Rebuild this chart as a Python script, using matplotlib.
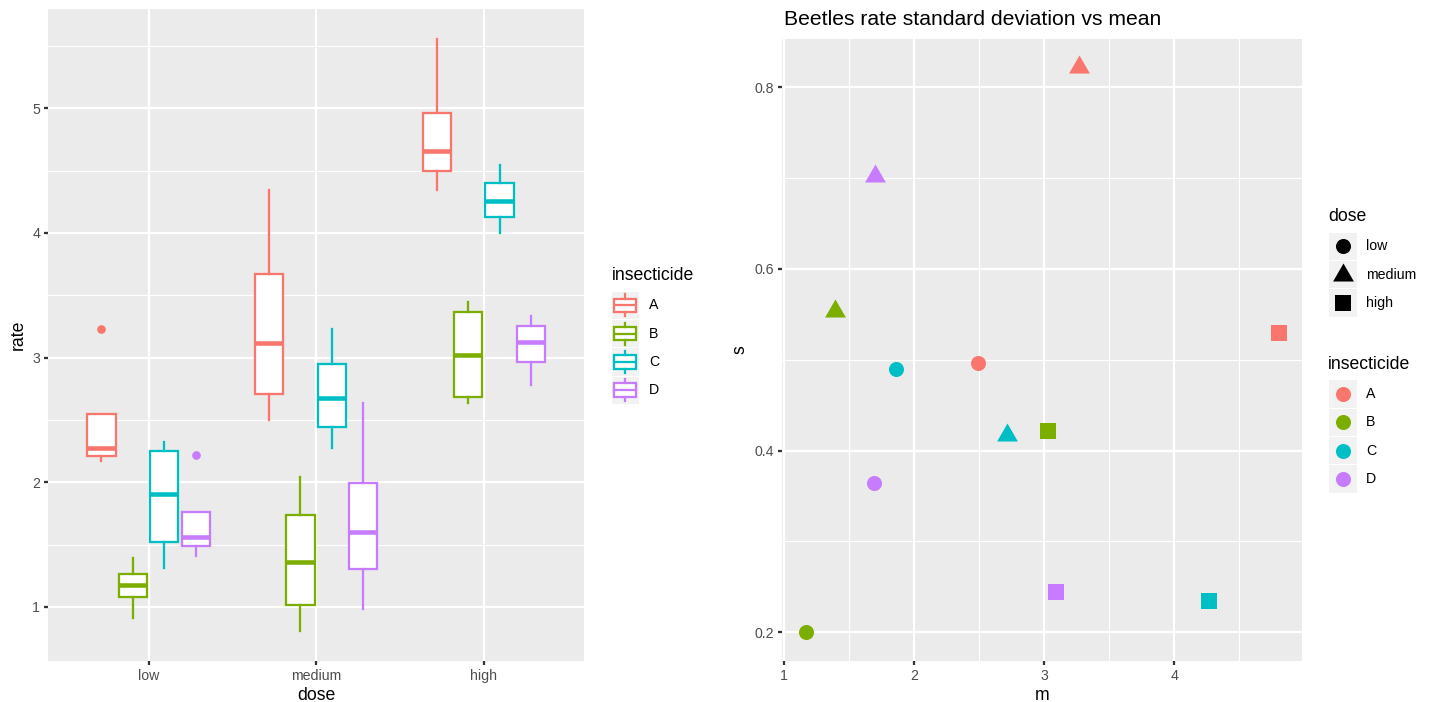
import numpy as np
import matplotlib
matplotlib.use("Agg")
import matplotlib.pyplot as plt
from matplotlib import cbook
from matplotlib.patches import Rectangle

plt.rcParams["font.family"] = ["Liberation Sans", "DejaVu Sans"]

# ---- data: beetle death rates (1 / survival time) per insecticide ----
doses = ["low", "medium", "high"]
insecticides = ["A", "B", "C", "D"]
colors = ["#F8766D", "#7CAE00", "#00BFC4", "#C77CFF"]

rate_low = [
    [3.226, 2.222, 2.174, 2.326],
    [1.220, 0.909, 1.136, 1.389],
    [2.326, 2.222, 1.587, 1.316],
    [2.222, 1.408, 1.515, 1.613],
]
rate_medium = [
    [2.778, 3.448, 2.500, 4.348],
    [1.087, 1.639, 2.041, 0.806],
    [2.273, 2.857, 3.226, 2.500],
    [1.786, 0.980, 1.408, 2.632],
]
rate_high = [
    [4.545, 4.762, 5.556, 4.348],
    [3.333, 2.703, 2.632, 3.448],
    [4.348, 4.000, 4.167, 4.545],
    [3.333, 2.778, 3.226, 3.030],
]
rates = [rate_low, rate_medium, rate_high]

dose_markers = ["o", "^", "s"]

# ---- figure geometry (pixels) ----
W, H = 1432, 702
DPI = 100
fig = plt.figure(figsize=(W / DPI, H / DPI), dpi=DPI, facecolor="white")

PT = 1.152          # ggplot point -> matplotlib point at this resolution
LW = 0.5 * 72.27 / 25.4 * PT * 1.0  # 0.5 mm line
GRID_MAJ = "white"
PANEL = "#EBEBEB"
TICK_TXT = "#4D4D4D"
TICK_COL = "#333333"
FS_TICK = 8.8 * PT
FS_AX = 11 * PT
FS_TITLE = 13.2 * PT


def px_axes(l, t, r, b):
    return fig.add_axes([l / W, 1 - b / H, (r - l) / W, (b - t) / H])


def style(ax):
    ax.set_facecolor(PANEL)
    for sp in ax.spines.values():
        sp.set_visible(False)
    ax.grid(which="major", color=GRID_MAJ, linewidth=LW)
    ax.grid(which="minor", color=GRID_MAJ, linewidth=LW / 2)
    ax.set_axisbelow(True)
    ax.tick_params(which="major", length=4.4 * 0.72, width=LW, color=TICK_COL,
                   labelcolor=TICK_TXT, labelsize=FS_TICK, pad=2.5)
    ax.tick_params(which="minor", length=0)


def padded(lo, hi, frac=0.05):
    span = hi - lo
    return lo - frac * span, hi + frac * span


# ---- left: boxplots of rate by dose and insecticide ----
ax1 = px_axes(48.0, 9.3, 584.4, 660.7)
style(ax1)
all_rates = np.concatenate([np.ravel(r) for r in rates])
ax1.set_ylim(*padded(all_rates.min(), all_rates.max()))
ax1.set_xlim(0.4, 3.6)
ax1.set_xticks([1, 2, 3])
ax1.set_xticklabels(doses)
ax1.set_yticks([1, 2, 3, 4, 5])
ax1.set_yticks([1.5, 2.5, 3.5, 4.5, 5.5], minor=True)

dodge = 0.75 / len(insecticides)
for d, dose_rates in enumerate(rates):
    for i, vals in enumerate(dose_rates):
        c = colors[i]
        pos = (d + 1) + (i - 1.5) * dodge
        st = cbook.boxplot_stats(np.array(vals), whis=1.5)
        ax1.bxp(st, positions=[pos], widths=dodge * 0.9, patch_artist=True,
                showcaps=False, manage_ticks=False,
                boxprops=dict(facecolor="white", edgecolor=c, linewidth=LW),
                whiskerprops=dict(color=c, linewidth=LW),
                medianprops=dict(color=c, linewidth=LW * 2, solid_capstyle="butt"),
                flierprops=dict(marker="o", markerfacecolor=c, markeredgecolor=c,
                                markersize=5.2, linestyle="none"))

ax1.set_xlabel("dose", fontsize=FS_AX, labelpad=3)
ax1.set_ylabel("rate", fontsize=FS_AX, labelpad=4)

# ---- right: standard deviation vs mean per group ----
m_vals, s_vals, grp_col, grp_mark = [], [], [], []
for d, dose_rates in enumerate(rates):
    for i, vals in enumerate(dose_rates):
        m_vals.append(np.mean(vals))
        s_vals.append(np.std(vals, ddof=1))
        grp_col.append(colors[i])
        grp_mark.append(d)
m_vals = np.array(m_vals)
s_vals = np.array(s_vals)

ax2 = px_axes(781.9, 38.8, 1302.3, 660.7)
style(ax2)
ax2.set_xlim(*padded(m_vals.min(), m_vals.max()))
ax2.set_ylim(*padded(s_vals.min(), s_vals.max()))
ax2.set_xticks([1, 2, 3, 4])
ax2.set_xticks([1.5, 2.5, 3.5, 4.5], minor=True)
ax2.set_yticks([0.2, 0.4, 0.6, 0.8])
ax2.set_yticklabels(["0.2", "0.4", "0.6", "0.8"])
ax2.set_yticks([0.3, 0.5, 0.7], minor=True)

tri = [(-0.5, -0.2887), (0.5, -0.2887), (0.0, 0.5774), (-0.5, -0.2887)]
marker_shapes = {0: "o", 1: tri, 2: "s"}
marker_sizes = {0: 117, 1: 300, 2: 133}
for k in range(len(m_vals)):
    d = grp_mark[k]
    ax2.scatter([m_vals[k]], [s_vals[k]], marker=marker_shapes[d],
                s=marker_sizes[d], color=grp_col[k], linewidths=0, zorder=3)

ax2.set_xlabel("m", fontsize=FS_AX, labelpad=3)
ax2.set_ylabel("s", fontsize=FS_AX, labelpad=4)
fig.text(784 / W, 1 - 25.3 / H, "Beetles rate standard deviation vs mean",
         fontsize=FS_TITLE, ha="left", va="baseline", color="black")

# ---- legends drawn in pixel space ----
ov = fig.add_axes([0, 0, 1, 1], zorder=10)
ov.set_xlim(0, W)
ov.set_ylim(H, 0)
ov.axis("off")

KEY = 27.3
PITCH = 28.3
KEY_BG = "#F2F2F2"

# left legend: insecticide (boxplot glyphs)
lx, ly = 611.7, 291.7
ov.text(lx, 280.5, "insecticide", fontsize=FS_AX, ha="left", va="baseline")
for i, name in enumerate(insecticides):
    top = ly + i * PITCH
    c = colors[i]
    ov.add_patch(Rectangle((lx, top), KEY, KEY, facecolor=KEY_BG, edgecolor="none"))
    ov.add_patch(Rectangle((lx + 0.1 * KEY, top + 0.25 * KEY), 0.8 * KEY, 0.5 * KEY,
                           facecolor="white", edgecolor=c, linewidth=LW))
    cx = lx + KEY / 2
    ov.plot([cx, cx], [top + 0.1 * KEY, top + 0.25 * KEY], color=c, lw=LW)
    ov.plot([cx, cx], [top + 0.75 * KEY, top + 0.9 * KEY], color=c, lw=LW)
    ov.plot([lx + 0.1 * KEY, lx + 0.9 * KEY], [top + 0.5 * KEY] * 2, color=c, lw=LW,
            solid_capstyle="butt")
    ov.text(649.3, top + KEY / 2, name, fontsize=FS_TICK, ha="left", va="center")

# right legend: dose (shapes)
rx = 1329.3
ov.text(1328.3, 220.7, "dose", fontsize=FS_AX, ha="left", va="baseline")
for d, name in enumerate(doses):
    top = 232.7 + d * PITCH
    ov.add_patch(Rectangle((rx, top), KEY, KEY, facecolor=KEY_BG, edgecolor="none"))
    ov.scatter([rx + KEY / 2], [top + KEY / 2], marker=marker_shapes[d],
               s=marker_sizes[d], color="black", linewidths=0)
    ov.text(1366, top + KEY / 2, name, fontsize=FS_TICK, ha="left", va="center")

# right legend: insecticide (colours)
ov.text(1328.3, 369.0, "insecticide", fontsize=FS_AX, ha="left", va="baseline")
for i, name in enumerate(insecticides):
    top = 380.3 + i * PITCH
    ov.add_patch(Rectangle((rx, top), KEY, KEY, facecolor=KEY_BG, edgecolor="none"))
    ov.scatter([rx + KEY / 2], [top + KEY / 2], marker="o", s=marker_sizes[0],
               color=colors[i], linewidths=0)
    ov.text(1366, top + KEY / 2, name, fontsize=FS_TICK, ha="left", va="center")

fig.savefig("out.png", dpi=DPI, facecolor="white")
